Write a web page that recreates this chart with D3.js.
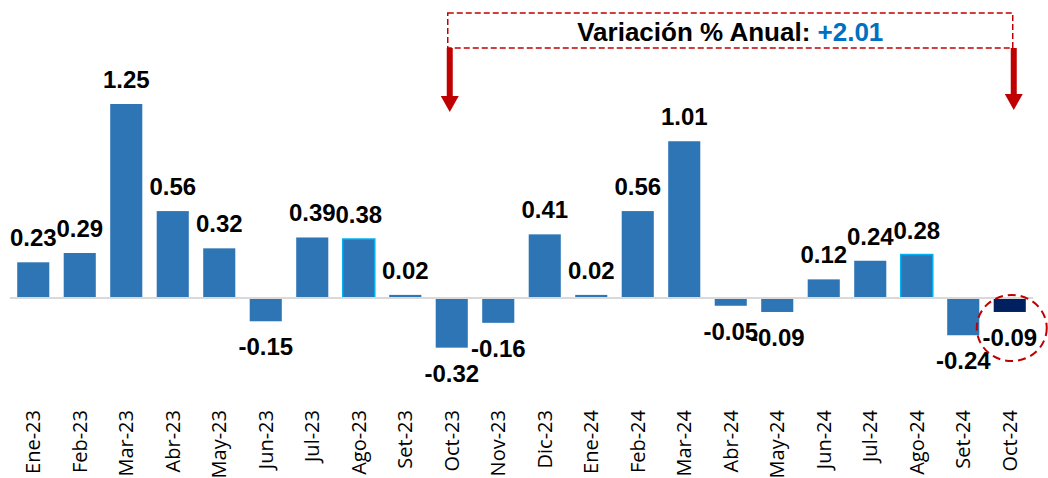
<!DOCTYPE html>
<html>
<head>
<meta charset="utf-8">
<script src="https://cdn.jsdelivr.net/npm/d3@7"></script>
<style>
  html, body { margin: 0; padding: 0; background: #ffffff; overflow: hidden; }
  svg { display: block; }
</style>
</head>
<body>
<svg id="chart" width="1048" height="478"></svg>
<script>
const categories = ["Ene-23","Feb-23","Mar-23","Abr-23","May-23","Jun-23","Jul-23","Ago-23","Set-23","Oct-23","Nov-23","Dic-23","Ene-24","Feb-24","Mar-24","Abr-24","May-24","Jun-24","Jul-24","Ago-24","Set-24","Oct-24"];
const values = [0.23, 0.29, 1.25, 0.56, 0.32, -0.15, 0.39, 0.38, 0.02, -0.32, -0.16, 0.41, 0.02, 0.56, 1.01, -0.05, -0.09, 0.12, 0.24, 0.28, -0.24, -0.09];
const outlined = ["Ago-23", "Ago-24"];
const highlighted = ["Oct-24"];
const titleLabel = "Variación % Anual: ";
const titleValue = "+2.01";
const bracketFrom = "Oct-23";
const bracketTo = "Oct-24";

const svg = d3.select("#chart");
const x = d3.scaleBand().domain(categories).range([10, 1033]).paddingInner(0.31).paddingOuter(0.155);
const y = d3.scaleLinear().domain([0, 1.25]).range([298, 104]);
const cx = d => x(d) + x.bandwidth() / 2;

// bars
svg.append("g").selectAll("rect").data(categories).join("rect")
  .attr("x", d => x(d))
  .attr("width", x.bandwidth())
  .attr("y", (d, i) => y(Math.max(0, values[i])))
  .attr("height", (d, i) => Math.abs(y(values[i]) - y(0)))
  .attr("fill", d => highlighted.includes(d) ? "#002060" : "#2e75b6")
  .attr("stroke", d => outlined.includes(d) ? "#00b0f0" : "none")
  .attr("stroke-width", 1.5);

// zero line
svg.append("line")
  .attr("x1", x.range()[0]).attr("x2", x.range()[1])
  .attr("y1", y(0)).attr("y2", y(0))
  .attr("stroke", "#d9d9d9").attr("stroke-width", 2);

// value labels
svg.append("g").selectAll("text").data(categories).join("text")
  .attr("x", d => cx(d))
  .attr("y", (d, i) => values[i] >= 0 ? y(values[i]) - 16 : y(values[i]) + 34)
  .attr("text-anchor", "middle")
  .attr("font-family", "'Liberation Sans', Arial, sans-serif")
  .attr("font-weight", "bold")
  .attr("font-size", 24)
  .attr("fill", "#000")
  .text((d, i) => values[i].toFixed(2));

// x axis labels (rotated)
const xAxis = d3.axisBottom(x).tickSize(0).tickPadding(0);
const gx = svg.append("g").attr("transform", "translate(0,410)").call(xAxis);
gx.select(".domain").remove();
gx.selectAll("text")
  .attr("font-family", "'Open Sans', sans-serif")
  .attr("font-size", 20)
  .attr("fill", "#000")
  .attr("text-anchor", "end")
  .attr("transform", "rotate(-90)")
  .attr("x", 0).attr("y", 0).attr("dy", "0.36em");

// dashed title box
const boxL = cx(bracketFrom) - 4, boxR = cx(bracketTo) + 3;
const boxT = 13, boxB = 48;
svg.append("rect")
  .attr("x", boxL).attr("y", boxT)
  .attr("width", boxR - boxL).attr("height", boxB - boxT)
  .attr("fill", "none").attr("stroke", "#c00000").attr("stroke-width", 1.5)
  .attr("stroke-dasharray", "6,3");

const title = svg.append("text")
  .attr("x", (boxL + boxR) / 2).attr("y", 41)
  .attr("text-anchor", "middle")
  .attr("font-family", "'Liberation Sans', Arial, sans-serif")
  .attr("font-weight", "bold").attr("font-size", 26);
title.append("tspan").attr("fill", "#000").text(titleLabel);
title.append("tspan").attr("fill", "#0070c0").text(titleValue);

// arrows
[[boxL + 2, 112], [boxR + 1, 110]].forEach(([ax, tip]) => {
  svg.append("rect").attr("x", ax - 3).attr("y", boxB).attr("width", 6).attr("height", tip - boxB - 14)
    .attr("fill", "#c00000");
  svg.append("path")
    .attr("d", `M${ax - 9},${tip - 16} L${ax + 9},${tip - 16} L${ax},${tip} Z`)
    .attr("fill", "#c00000");
});

// dashed circle around last bar
svg.append("ellipse")
  .attr("cx", cx(bracketTo) + 2).attr("cy", 328)
  .attr("rx", 35).attr("ry", 33)
  .attr("fill", "none").attr("stroke", "#c00000").attr("stroke-width", 2)
  .attr("stroke-dasharray", "8,5");
</script>
</body>
</html>
